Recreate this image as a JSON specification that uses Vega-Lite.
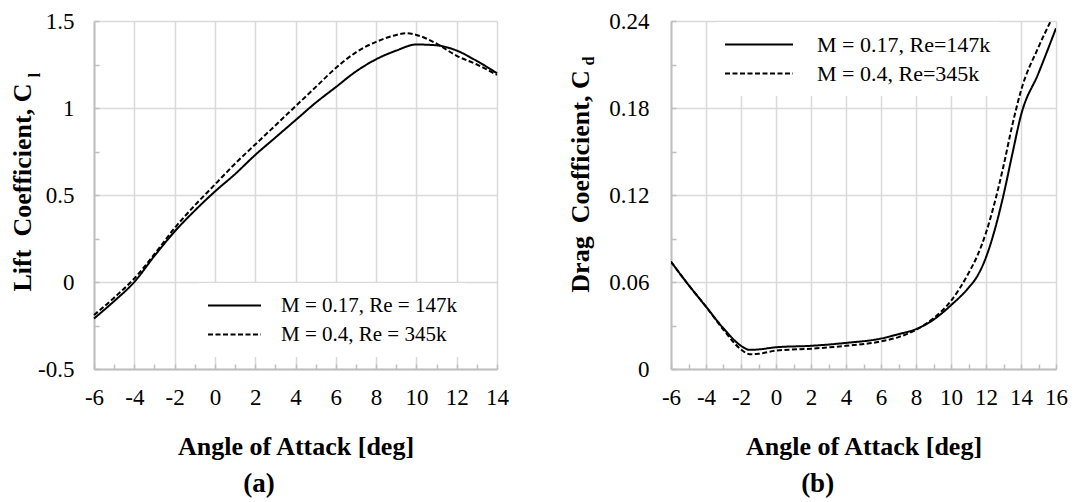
{
  "$schema": "https://vega.github.io/schema/vega-lite/v6.json",
  "padding": {"left": 9, "top": 10, "right": 5, "bottom": 5},
  "background": "white",
  "config": {
    "font": "Liberation Serif",
    "view": {"stroke": null},
    "axis": {
      "labelFont": "Liberation Serif",
      "labelFontSize": 23,
      "labelColor": "black",
      "labelOverlap": false,
      "labelFlush": false,
      "titleFont": "Liberation Serif",
      "titleFontSize": 26,
      "titleFontWeight": "bold",
      "titleColor": "black",
      "domainColor": "#bfbfbf",
      "domainWidth": 2,
      "tickColor": "#bfbfbf",
      "tickWidth": 1.5,
      "tickSize": -5,
      "tickCount": 100,
      "gridColor": "#d9d9d9",
      "gridWidth": 1.5
    },
    "legend": {
      "labelFont": "Liberation Serif",
      "labelFontSize": 21,
      "labelColor": "black",
      "labelLimit": 400,
      "symbolType": "stroke",
      "symbolStrokeColor": "black",
      "symbolStrokeWidth": 2,
      "fillColor": "white"
    }
  },
  "spacing": 58,
  "resolve": {"scale": {"strokeDash": "independent"}, "legend": {"strokeDash": "independent"}},
  "hconcat": [
    {
      "width": 403,
      "height": 348,
      "title": {"text": "(a)", "orient": "bottom", "anchor": "middle", "frame": "bounds", "font": "Liberation Serif", "fontSize": 27, "fontWeight": "bold", "color": "black", "offset": 12},
      "layer": [
        {
          "data": {"values": [
            {"aoa": -6, "cl": -0.21, "series": "M = 0.17, Re = 147k"},
            {"aoa": -5, "cl": -0.11, "series": "M = 0.17, Re = 147k"},
            {"aoa": -4, "cl": 0.0, "series": "M = 0.17, Re = 147k"},
            {"aoa": -3, "cl": 0.15, "series": "M = 0.17, Re = 147k"},
            {"aoa": -2, "cl": 0.29, "series": "M = 0.17, Re = 147k"},
            {"aoa": -1, "cl": 0.41, "series": "M = 0.17, Re = 147k"},
            {"aoa": 0, "cl": 0.52, "series": "M = 0.17, Re = 147k"},
            {"aoa": 1, "cl": 0.62, "series": "M = 0.17, Re = 147k"},
            {"aoa": 2, "cl": 0.73, "series": "M = 0.17, Re = 147k"},
            {"aoa": 3, "cl": 0.83, "series": "M = 0.17, Re = 147k"},
            {"aoa": 4, "cl": 0.93, "series": "M = 0.17, Re = 147k"},
            {"aoa": 5, "cl": 1.03, "series": "M = 0.17, Re = 147k"},
            {"aoa": 6, "cl": 1.12, "series": "M = 0.17, Re = 147k"},
            {"aoa": 7, "cl": 1.21, "series": "M = 0.17, Re = 147k"},
            {"aoa": 8, "cl": 1.28, "series": "M = 0.17, Re = 147k"},
            {"aoa": 9, "cl": 1.33, "series": "M = 0.17, Re = 147k"},
            {"aoa": 10, "cl": 1.365, "series": "M = 0.17, Re = 147k"},
            {"aoa": 11, "cl": 1.36, "series": "M = 0.17, Re = 147k"},
            {"aoa": 12, "cl": 1.33, "series": "M = 0.17, Re = 147k"},
            {"aoa": 13, "cl": 1.27, "series": "M = 0.17, Re = 147k"},
            {"aoa": 14, "cl": 1.2, "series": "M = 0.17, Re = 147k"},
            {"aoa": -6, "cl": -0.19, "series": "M = 0.4, Re = 345k"},
            {"aoa": -5, "cl": -0.09, "series": "M = 0.4, Re = 345k"},
            {"aoa": -4, "cl": 0.02, "series": "M = 0.4, Re = 345k"},
            {"aoa": -3, "cl": 0.16, "series": "M = 0.4, Re = 345k"},
            {"aoa": -2, "cl": 0.31, "series": "M = 0.4, Re = 345k"},
            {"aoa": -1, "cl": 0.44, "series": "M = 0.4, Re = 345k"},
            {"aoa": 0, "cl": 0.56, "series": "M = 0.4, Re = 345k"},
            {"aoa": 1, "cl": 0.68, "series": "M = 0.4, Re = 345k"},
            {"aoa": 2, "cl": 0.79, "series": "M = 0.4, Re = 345k"},
            {"aoa": 3, "cl": 0.9, "series": "M = 0.4, Re = 345k"},
            {"aoa": 4, "cl": 1.01, "series": "M = 0.4, Re = 345k"},
            {"aoa": 5, "cl": 1.12, "series": "M = 0.4, Re = 345k"},
            {"aoa": 6, "cl": 1.23, "series": "M = 0.4, Re = 345k"},
            {"aoa": 7, "cl": 1.32, "series": "M = 0.4, Re = 345k"},
            {"aoa": 8, "cl": 1.38, "series": "M = 0.4, Re = 345k"},
            {"aoa": 9, "cl": 1.42, "series": "M = 0.4, Re = 345k"},
            {"aoa": 9.5, "cl": 1.43, "series": "M = 0.4, Re = 345k"},
            {"aoa": 10, "cl": 1.42, "series": "M = 0.4, Re = 345k"},
            {"aoa": 11, "cl": 1.37, "series": "M = 0.4, Re = 345k"},
            {"aoa": 12, "cl": 1.3, "series": "M = 0.4, Re = 345k"},
            {"aoa": 13, "cl": 1.25, "series": "M = 0.4, Re = 345k"},
            {"aoa": 14, "cl": 1.19, "series": "M = 0.4, Re = 345k"}
          ]},
          "mark": {"type": "line", "interpolate": "monotone", "color": "black", "strokeWidth": 2},
          "encoding": {
            "x": {
              "field": "aoa", "type": "quantitative",
              "scale": {"domain": [-6, 14], "nice": false, "zero": false},
              "axis": {
                "title": "Angle of Attack [deg]",
                "values": [-6,-5,-4,-3,-2,-1,0,1,2,3,4,5,6,7,8,9,10,11,12,13,14],
                "tickCount": 100,
                "labelExpr": "datum.value % 2 === 0 ? '' + datum.value : ''",
                "labelOverlap": false,
                "labelFlush": false,
                "gridOpacity": {"condition": {"test": "datum.value % 2 !== 0", "value": 0}, "value": 1},
                "labelPadding": 22,
                "titlePadding": 24
              }
            },
            "y": {
              "field": "cl", "type": "quantitative",
              "scale": {"domain": [-0.5, 1.5], "nice": false, "zero": false},
              "axis": {
                "title": "Lift\u00a0 Coefficient, C",
                "values": [-0.5,-0.25,0,0.25,0.5,0.75,1,1.25,1.5],
                "tickCount": 100,
                "labelExpr": "datum.value % 0.5 === 0 ? '' + datum.value : ''",
                "labelOverlap": false,
                "gridOpacity": {"condition": {"test": "datum.value % 0.5 !== 0", "value": 0}, "value": 1},
                "labelPadding": 25,
                "titlePadding": 2,
                "titleY": 166
              }
            },
            "strokeDash": {
              "field": "series", "type": "nominal",
              "scale": {"domain": ["M = 0.17, Re = 147k", "M = 0.4, Re = 345k"], "range": [[1, 0], [5, 2.5]]},
              "legend": {"title": null, "orient": "none", "legendX": 105, "legendY": 262, "symbolSize": 2809, "clipHeight": 29, "rowPadding": 0, "labelOffset": 19, "padding": 8}
            }
          }
        },
        {
          "data": {"values": [{"sub": "l"}]},
          "mark": {"type": "text", "font": "Liberation Serif", "fontSize": 16, "fontWeight": "bold", "angle": 270, "color": "black", "align": "center", "baseline": "middle"},
          "encoding": {
            "x": {"datum": -8.95, "type": "quantitative", "axis": {"labelOverlap": false, "labelFlush": false, "tickCount": 100}},
            "y": {"datum": 1.19, "type": "quantitative", "axis": {"labelOverlap": false, "tickCount": 100}},
            "text": {"field": "sub"}
          }
        }
      ]
    },
    {
      "width": 385,
      "height": 348,
      "title": {"text": "(b)", "orient": "bottom", "anchor": "middle", "frame": "bounds", "font": "Liberation Serif", "fontSize": 27, "fontWeight": "bold", "color": "black", "offset": 12},
      "layer": [
        {
          "data": {"values": [
            {"aoa": -6, "cd": 0.074, "series": "M = 0.17, Re=147k"},
            {"aoa": -5, "cd": 0.058, "series": "M = 0.17, Re=147k"},
            {"aoa": -4, "cd": 0.043, "series": "M = 0.17, Re=147k"},
            {"aoa": -3, "cd": 0.028, "series": "M = 0.17, Re=147k"},
            {"aoa": -2, "cd": 0.016, "series": "M = 0.17, Re=147k"},
            {"aoa": -1.5, "cd": 0.0132, "series": "M = 0.17, Re=147k"},
            {"aoa": -1, "cd": 0.0135, "series": "M = 0.17, Re=147k"},
            {"aoa": 0, "cd": 0.015, "series": "M = 0.17, Re=147k"},
            {"aoa": 2, "cd": 0.016, "series": "M = 0.17, Re=147k"},
            {"aoa": 4, "cd": 0.018, "series": "M = 0.17, Re=147k"},
            {"aoa": 6, "cd": 0.021, "series": "M = 0.17, Re=147k"},
            {"aoa": 7, "cd": 0.024, "series": "M = 0.17, Re=147k"},
            {"aoa": 8, "cd": 0.0275, "series": "M = 0.17, Re=147k"},
            {"aoa": 9, "cd": 0.034, "series": "M = 0.17, Re=147k"},
            {"aoa": 10, "cd": 0.044, "series": "M = 0.17, Re=147k"},
            {"aoa": 11, "cd": 0.056, "series": "M = 0.17, Re=147k"},
            {"aoa": 11.5, "cd": 0.064, "series": "M = 0.17, Re=147k"},
            {"aoa": 12, "cd": 0.077, "series": "M = 0.17, Re=147k"},
            {"aoa": 12.5, "cd": 0.096, "series": "M = 0.17, Re=147k"},
            {"aoa": 13, "cd": 0.12, "series": "M = 0.17, Re=147k"},
            {"aoa": 13.5, "cd": 0.148, "series": "M = 0.17, Re=147k"},
            {"aoa": 14, "cd": 0.175, "series": "M = 0.17, Re=147k"},
            {"aoa": 15, "cd": 0.204, "series": "M = 0.17, Re=147k"},
            {"aoa": 16, "cd": 0.235, "series": "M = 0.17, Re=147k"},
            {"aoa": -6, "cd": 0.074, "series": "M = 0.4, Re=345k"},
            {"aoa": -5, "cd": 0.058, "series": "M = 0.4, Re=345k"},
            {"aoa": -4, "cd": 0.043, "series": "M = 0.4, Re=345k"},
            {"aoa": -3, "cd": 0.027, "series": "M = 0.4, Re=345k"},
            {"aoa": -2, "cd": 0.0135, "series": "M = 0.4, Re=345k"},
            {"aoa": -1.5, "cd": 0.0102, "series": "M = 0.4, Re=345k"},
            {"aoa": -1, "cd": 0.0105, "series": "M = 0.4, Re=345k"},
            {"aoa": 0, "cd": 0.0127, "series": "M = 0.4, Re=345k"},
            {"aoa": 2, "cd": 0.014, "series": "M = 0.4, Re=345k"},
            {"aoa": 4, "cd": 0.016, "series": "M = 0.4, Re=345k"},
            {"aoa": 6, "cd": 0.019, "series": "M = 0.4, Re=345k"},
            {"aoa": 7, "cd": 0.022, "series": "M = 0.4, Re=345k"},
            {"aoa": 8, "cd": 0.027, "series": "M = 0.4, Re=345k"},
            {"aoa": 9, "cd": 0.035, "series": "M = 0.4, Re=345k"},
            {"aoa": 10, "cd": 0.047, "series": "M = 0.4, Re=345k"},
            {"aoa": 11, "cd": 0.066, "series": "M = 0.4, Re=345k"},
            {"aoa": 11.5, "cd": 0.078, "series": "M = 0.4, Re=345k"},
            {"aoa": 12, "cd": 0.094, "series": "M = 0.4, Re=345k"},
            {"aoa": 12.5, "cd": 0.115, "series": "M = 0.4, Re=345k"},
            {"aoa": 13, "cd": 0.14, "series": "M = 0.4, Re=345k"},
            {"aoa": 13.5, "cd": 0.168, "series": "M = 0.4, Re=345k"},
            {"aoa": 14, "cd": 0.192, "series": "M = 0.4, Re=345k"},
            {"aoa": 15, "cd": 0.222, "series": "M = 0.4, Re=345k"},
            {"aoa": 15.7, "cd": 0.24, "series": "M = 0.4, Re=345k"}
          ]},
          "mark": {"type": "line", "interpolate": "monotone", "color": "black", "strokeWidth": 2, "clip": true},
          "encoding": {
            "x": {
              "field": "aoa", "type": "quantitative",
              "scale": {"domain": [-6, 16], "nice": false, "zero": false},
              "axis": {
                "title": "Angle of Attack [deg]",
                "values": [-6,-5,-4,-3,-2,-1,0,1,2,3,4,5,6,7,8,9,10,11,12,13,14,15,16],
                "tickCount": 100,
                "labelExpr": "datum.value % 2 === 0 ? '' + datum.value : ''",
                "labelOverlap": false,
                "labelFlush": false,
                "gridOpacity": {"condition": {"test": "datum.value % 2 !== 0", "value": 0}, "value": 1},
                "labelPadding": 22,
                "titlePadding": 24
              }
            },
            "y": {
              "field": "cd", "type": "quantitative",
              "scale": {"domain": [0, 0.24], "nice": false, "zero": false},
              "axis": {
                "title": "Drag\u00a0 Coefficient, C",
                "values": [0, 0.03, 0.06, 0.09, 0.12, 0.15, 0.18, 0.21, 0.24],
                "tickCount": 100,
                "labelExpr": "round(datum.value * 100) % 6 === 0 ? '' + datum.value : ''",
                "labelOverlap": false,
                "gridOpacity": {"condition": {"test": "round(datum.value * 100) % 6 !== 0", "value": 0}, "value": 1},
                "labelPadding": 27,
                "titlePadding": 15,
                "titleY": 160
              }
            },
            "strokeDash": {
              "field": "series", "type": "nominal",
              "scale": {"domain": ["M = 0.17, Re=147k", "M = 0.4, Re=345k"], "range": [[1, 0], [5, 2.5]]},
              "legend": {"title": null, "orient": "none", "legendX": 45, "legendY": 1, "symbolSize": 4624, "clipHeight": 29, "rowPadding": 0, "labelOffset": 23, "labelFontSize": 22, "padding": 8}
            }
          }
        },
        {
          "data": {"values": [{"sub": "d"}]},
          "mark": {"type": "text", "font": "Liberation Serif", "fontSize": 16, "fontWeight": "bold", "angle": 270, "color": "black", "align": "center", "baseline": "middle"},
          "encoding": {
            "x": {"datum": -10.7, "type": "quantitative", "axis": {"labelOverlap": false, "labelFlush": false, "tickCount": 100}},
            "y": {"datum": 0.2124, "type": "quantitative", "axis": {"labelOverlap": false, "tickCount": 100}},
            "text": {"field": "sub"}
          }
        }
      ]
    }
  ]
}
